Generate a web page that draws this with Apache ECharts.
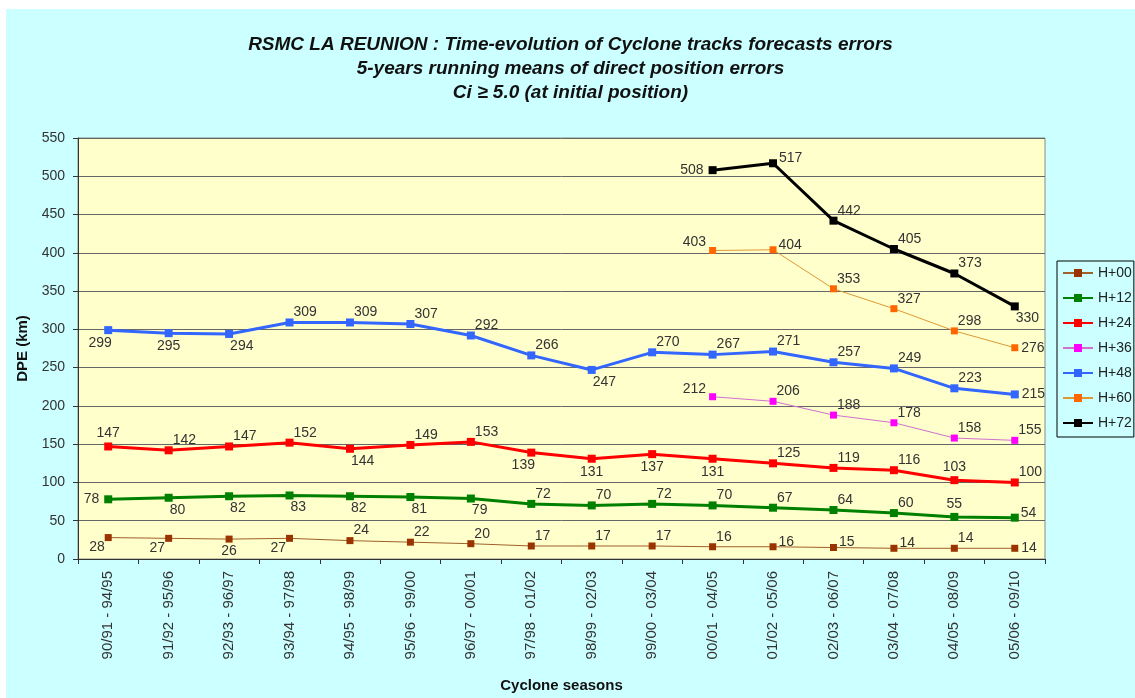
<!DOCTYPE html>
<html>
<head>
<meta charset="utf-8">
<script src="https://cdn.jsdelivr.net/npm/echarts@6/dist/echarts.min.js"></script>
<style>
  html, body { margin: 0; padding: 0; background: #ffffff; }
  #wrap { position: absolute; left: 0; top: 0; width: 1135px; height: 698px; background: #ffffff; }
  #chart { position: absolute; left: 6px; top: 9px; width: 1129px; height: 689px; }
</style>
</head>
<body>
<div id="wrap"><div id="chart"></div></div>
<script>
// ---- data ----
const categories = [
  '90/91 - 94/95', '91/92 - 95/96', '92/93 - 96/97', '93/94 - 97/98',
  '94/95 - 98/99', '95/96 - 99/00', '96/97 - 00/01', '97/98 - 01/02',
  '98/99 - 02/03', '99/00 - 03/04', '00/01 - 04/05', '01/02 - 05/06',
  '02/03 - 06/07', '03/04 - 07/08', '04/05 - 08/09', '05/06 - 09/10'
];
const seriesNames = ['H+00', 'H+12', 'H+24', 'H+36', 'H+48', 'H+60', 'H+72'];
const h00 = [28, 27, 26, 27, 24, 22, 20, 17, 17, 17, 16, 16, 15, 14, 14, 14];
const h12 = [78, 80, 82, 83, 82, 81, 79, 72, 70, 72, 70, 67, 64, 60, 55, 54];
const h24 = [147, 142, 147, 152, 144, 149, 153, 139, 131, 137, 131, 125, 119, 116, 103, 100];
const h36 = [null, null, null, null, null, null, null, null, null, null, 212, 206, 188, 178, 158, 155];
const h48 = [299, 295, 294, 309, 309, 307, 292, 266, 247, 270, 267, 271, 257, 249, 223, 215];
const h60 = [null, null, null, null, null, null, null, null, null, null, 403, 404, 353, 327, 298, 276];
const h72 = [null, null, null, null, null, null, null, null, null, null, 508, 517, 442, 405, 373, 330];
const yTicks = { min: 0, max: 550, interval: 50 };

// ---- label placement (style only) ----
const LP = {
  tr: { position: 'right', distance: 0, offset: [0, -10] },
  ru: { position: 'right', distance: 2, offset: [0, -5] },
  r:  { position: 'right', distance: 3, offset: [0, 0] },
  br: { position: 'right', distance: -3, offset: [0, 12] },
  b:  { position: 'bottom', distance: 2, offset: [0, 0] },
  bw: { position: 'bottom', distance: 2, offset: [-8, 0] },
  bl: { position: 'left', distance: 0, offset: [0, 10] },
  t:  { position: 'top', distance: 2, offset: [0, 0] },
  tl: { position: 'left', distance: 3, offset: [0, -8] },
  l:  { position: 'left', distance: 5, offset: [0, 0] }
};
const placements = [
  ['bl','bl','b','bl','tr','tr','tr','tr','tr','tr','tr','ru','ru','ru','tr','r'],
  ['l','br','br','br','br','br','br','tr','tr','tr','tr','tr','tr','tr','t','ru'],
  ['t','tr','tr','tr','br','tr','tr','bw','b','b','b','tr','tr','tr','t','tr'],
  ['','','','','','','','','','','tl','tr','tr','tr','tr','tr'],
  ['bw','b','br','tr','tr','tr','tr','tr','br','tr','tr','tr','tr','tr','tr','r'],
  ['','','','','','','','','','','tl','ru','tr','tr','tr','r'],
  ['','','','','','','','','','','l','ru','tr','tr','tr','br']
];
const styles = [
  { line: '#a0602a', marker: '#993300', width: 1, size: 7 },
  { line: '#008000', marker: '#008000', width: 3, size: 8 },
  { line: '#ff0000', marker: '#ff0000', width: 3, size: 8 },
  { line: '#d070d0', marker: '#ff00ff', width: 1, size: 7 },
  { line: '#3366ff', marker: '#3366ff', width: 3, size: 8 },
  { line: '#dd9933', marker: '#ff6600', width: 1, size: 7 },
  { line: '#000000', marker: '#000000', width: 3, size: 8 }
];
const allValues = [h00, h12, h24, h36, h48, h60, h72];

const FONT = '"Liberation Sans", Arial, sans-serif';

const series = allValues.map((vals, si) => ({
  name: seriesNames[si],
  type: 'line',
  symbol: 'rect',
  symbolSize: styles[si].size,
  showAllSymbol: true,
  animation: false,
  lineStyle: { color: styles[si].line, width: styles[si].width },
  itemStyle: { color: styles[si].marker },
  label: {
    show: true,
    fontFamily: FONT,
    fontSize: 14,
    color: '#333333'
  },
  emphasis: { disabled: true },
  z: 2 + si,
  data: vals.map((v, i) => v === null ? null : { value: v, label: LP[placements[si][i]] })
}));

const chart = echarts.init(document.getElementById('chart'), null, { renderer: 'canvas' });
chart.setOption({
  backgroundColor: '#ccffff',
  animation: false,
  title: {
    text: 'RSMC LA REUNION : Time-evolution of Cyclone tracks forecasts errors\n5-years running means of direct position errors\nCi \u2265 5.0 (at initial position)',
    left: 'center',
    top: 24,
    padding: 0,
    textStyle: {
      fontFamily: FONT,
      fontSize: 19,
      fontWeight: 'bold',
      fontStyle: 'italic',
      lineHeight: 24,
      color: '#111111'
    }
  },
  legend: {
    orient: 'vertical',
    left: 1051,
    top: 252,
    padding: [4, 2, 6, 5],
    itemWidth: 30,
    itemHeight: 10,
    itemGap: 9,
    borderColor: '#000000',
    borderWidth: 1,
    backgroundColor: '#ccffff',
    textStyle: { fontFamily: FONT, fontSize: 14, lineHeight: 16, color: '#222222' },
    data: seriesNames
  },
  grid: {
    left: 72, top: 129, right: 90, bottom: 135,
    show: true,
    backgroundColor: '#ffffcc',
    borderColor: '#888888',
    borderWidth: 1,
    containLabel: false
  },
  xAxis: {
    type: 'category',
    data: categories,
    boundaryGap: true,
    name: 'Cyclone seasons',
    nameLocation: 'middle',
    nameGap: 119,
    nameTextStyle: { fontFamily: FONT, fontSize: 15, fontWeight: 'bold', color: '#111111' },
    axisLine: { lineStyle: { color: '#333333', width: 1 } },
    axisTick: { show: true, alignWithLabel: false, length: 5, inside: false, lineStyle: { color: '#333333' } },
    axisLabel: { rotate: 90, interval: 0, margin: 12, fontFamily: FONT, fontSize: 15, color: '#333333' },
    splitLine: { show: false }
  },
  yAxis: {
    type: 'value',
    min: yTicks.min,
    max: yTicks.max,
    interval: yTicks.interval,
    name: 'DPE (km)',
    nameLocation: 'middle',
    nameGap: 47,
    nameRotate: 90,
    nameTextStyle: { fontFamily: FONT, fontSize: 15, fontWeight: 'bold', color: '#111111' },
    axisLine: { show: true, lineStyle: { color: '#333333', width: 1 } },
    axisTick: { show: true, length: 5, inside: false, lineStyle: { color: '#333333' } },
    axisLabel: { margin: 13, fontFamily: FONT, fontSize: 14, color: '#333333' },
    splitLine: { show: true, lineStyle: { color: '#666666', width: 1 } }
  },
  series: series
});
</script>
</body>
</html>
